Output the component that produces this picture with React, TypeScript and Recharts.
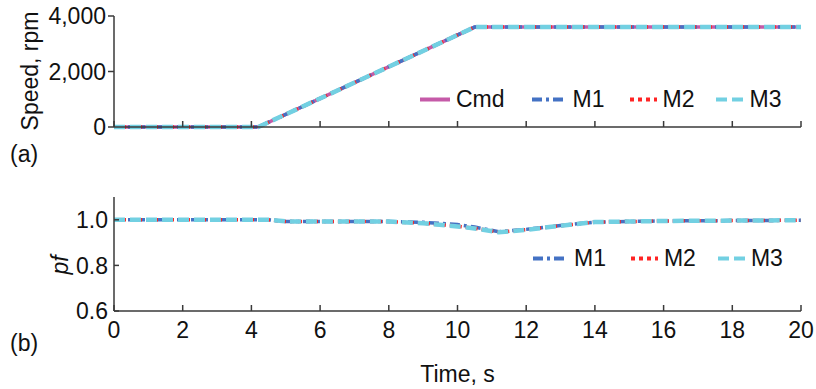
import { LineChart, Line, XAxis, YAxis } from 'recharts'

// speed command / measured speeds (rpm) vs time (s)
const speedTime = [0, 4.2, 10.5, 20]
const speedCmd = [0, 0, 3600, 3600]
const speedM1 = [0, 0, 3600, 3600]
const speedM2 = [0, 0, 3600, 3600]
const speedM3 = [0, 0, 3600, 3600]

// power factor vs time (s)
const pfTime = [0, 4.5, 5, 6, 7, 8, 9, 10, 10.5, 11.2, 12, 13, 14, 16, 20]
const pfM1 = [1.0, 1.0, 0.993, 0.993, 0.993, 0.992, 0.989, 0.979, 0.968, 0.948, 0.958, 0.975, 0.99, 0.995, 0.998]
const pfM2 = [1.0, 1.0, 0.993, 0.993, 0.993, 0.992, 0.985, 0.972, 0.963, 0.946, 0.957, 0.974, 0.99, 0.995, 0.998]
const pfM3 = [1.0, 1.0, 0.993, 0.993, 0.993, 0.992, 0.985, 0.971, 0.962, 0.945, 0.956, 0.974, 0.99, 0.995, 0.998]

const timeTicks = [0, 2, 4, 6, 8, 10, 12, 14, 16, 18, 20]
const speedTicks = [0, 2000, 4000]
const pfTicks = [0.6, 0.8, 1.0]

const FONT = '"Liberation Sans", Arial, sans-serif'
const FS = 23
const AXIS = '#3a3a3a'

const STYLE: Record<string, { color: string; dash?: string; width: number; icon: number; gap: number }> = {
  Cmd: { color: '#c55aa8', width: 3.5, icon: 30, gap: 27 },
  M1: { color: '#4472c4', dash: '10 4 3 4', width: 3.5, icon: 35, gap: 25 },
  M2: { color: '#ff2424', dash: '4 4', width: 3.5, icon: 27, gap: 22 },
  M3: { color: '#72d0e2', dash: '11 5', width: 4.5, icon: 27, gap: 0 },
}

const toRows = (t: number[], v: number[]) => t.map((x, i) => ({ t: x, v: v[i] }))

const speedSeries = [
  { name: 'Cmd', data: toRows(speedTime, speedCmd) },
  { name: 'M1', data: toRows(speedTime, speedM1) },
  { name: 'M2', data: toRows(speedTime, speedM2) },
  { name: 'M3', data: toRows(speedTime, speedM3) },
]

const pfSeries = [
  { name: 'M1', data: toRows(pfTime, pfM1) },
  { name: 'M2', data: toRows(pfTime, pfM2) },
  { name: 'M3', data: toRows(pfTime, pfM3) },
]

function LegendBox({ names, left, top }: { names: string[]; left: number; top: number }) {
  return (
    <div style={{ position: 'absolute', left, top, transform: 'translateY(-50%)', display: 'flex', alignItems: 'center', fontSize: FS, color: '#111', lineHeight: 1 }}>
      {names.map(n => {
        const s = STYLE[n]
        return (
          <div key={n} style={{ display: 'flex', alignItems: 'center', marginRight: s.gap }}>
            <svg width={s.icon} height={10} style={{ marginRight: 6 }}>
              <line x1={0} y1={5} x2={s.icon} y2={5} stroke={s.color} strokeWidth={4} strokeDasharray={s.dash} />
            </svg>
            <span>{n}</span>
          </div>
        )
      })}
    </div>
  )
}

const tickText = { fontSize: FS, fill: '#111', fontFamily: FONT }

export default function App() {
  return (
    <div style={{ position: 'absolute', left: 0, top: 0, width: 816, height: 389, background: '#fff', fontFamily: FONT }}>
      <div style={{ position: 'absolute', left: 0, top: 0 }}>
        <LineChart width={816} height={150} margin={{ top: 16, right: 15, left: 0, bottom: 0 }}>
          <XAxis
            type="number"
            dataKey="t"
            domain={[0, 20]}
            ticks={timeTicks}
            height={23}
            tick={() => <g />}
            tickSize={-6}
            stroke={AXIS}
            strokeWidth={1.5}
          />
          <YAxis
            type="number"
            domain={[0, 4000]}
            ticks={speedTicks}
            width={114}
            tickSize={6}
            tickMargin={2}
            tick={tickText}
            tickFormatter={v => v.toLocaleString('en-US')}
            stroke={AXIS}
            strokeWidth={1.5}
          />
          {speedSeries.map(s => (
            <Line
              key={s.name}
              data={s.data}
              dataKey="v"
              name={s.name}
              type="linear"
              stroke={STYLE[s.name].color}
              strokeWidth={STYLE[s.name].width}
              strokeDasharray={STYLE[s.name].dash}
              dot={false}
              isAnimationActive={false}
            />
          ))}
        </LineChart>
      </div>

      <div style={{ position: 'absolute', left: 0, top: 180 }}>
        <LineChart width={816} height={209} margin={{ top: 17, right: 15, left: 0, bottom: 0 }}>
          <XAxis
            type="number"
            dataKey="t"
            domain={[0, 20]}
            ticks={timeTicks}
            height={78}
            tick={tickText}
            tickSize={-6}
            tickMargin={17}
            stroke={AXIS}
            strokeWidth={1.5}
            label={{ value: 'Time, s', position: 'insideBottom', offset: 7, fontSize: FS, fill: '#111', fontFamily: FONT }}
          />
          <YAxis
            type="number"
            domain={[0.6, 1.1]}
            ticks={pfTicks}
            width={114}
            tickSize={-5}
            tickMargin={11}
            tick={tickText}
            tickFormatter={v => v.toFixed(1)}
            stroke={AXIS}
            strokeWidth={1.5}
          />
          {pfSeries.map(s => (
            <Line
              key={s.name}
              data={s.data}
              dataKey="v"
              name={s.name}
              type="linear"
              stroke={STYLE[s.name].color}
              strokeWidth={STYLE[s.name].width}
              strokeDasharray={STYLE[s.name].dash}
              dot={false}
              isAnimationActive={false}
            />
          ))}
        </LineChart>
      </div>

      <LegendBox names={['Cmd', 'M1', 'M2', 'M3']} left={420} top={99} />
      <LegendBox names={['M1', 'M2', 'M3']} left={533} top={258} />

      <div style={{ position: 'absolute', left: 30, top: 71, transform: 'translate(-50%, -50%) rotate(-90deg)', fontSize: FS, whiteSpace: 'nowrap', color: '#111' }}>
        Speed, rpm
      </div>
      <div style={{ position: 'absolute', left: 60, top: 265, transform: 'translate(-50%, -50%) rotate(-90deg)', fontSize: FS, fontStyle: 'italic', color: '#111' }}>
        pf
      </div>
      <div style={{ position: 'absolute', left: 10, top: 141, fontSize: FS, color: '#111' }}>(a)</div>
      <div style={{ position: 'absolute', left: 10, top: 330, fontSize: FS, color: '#111' }}>(b)</div>
    </div>
  )
}
